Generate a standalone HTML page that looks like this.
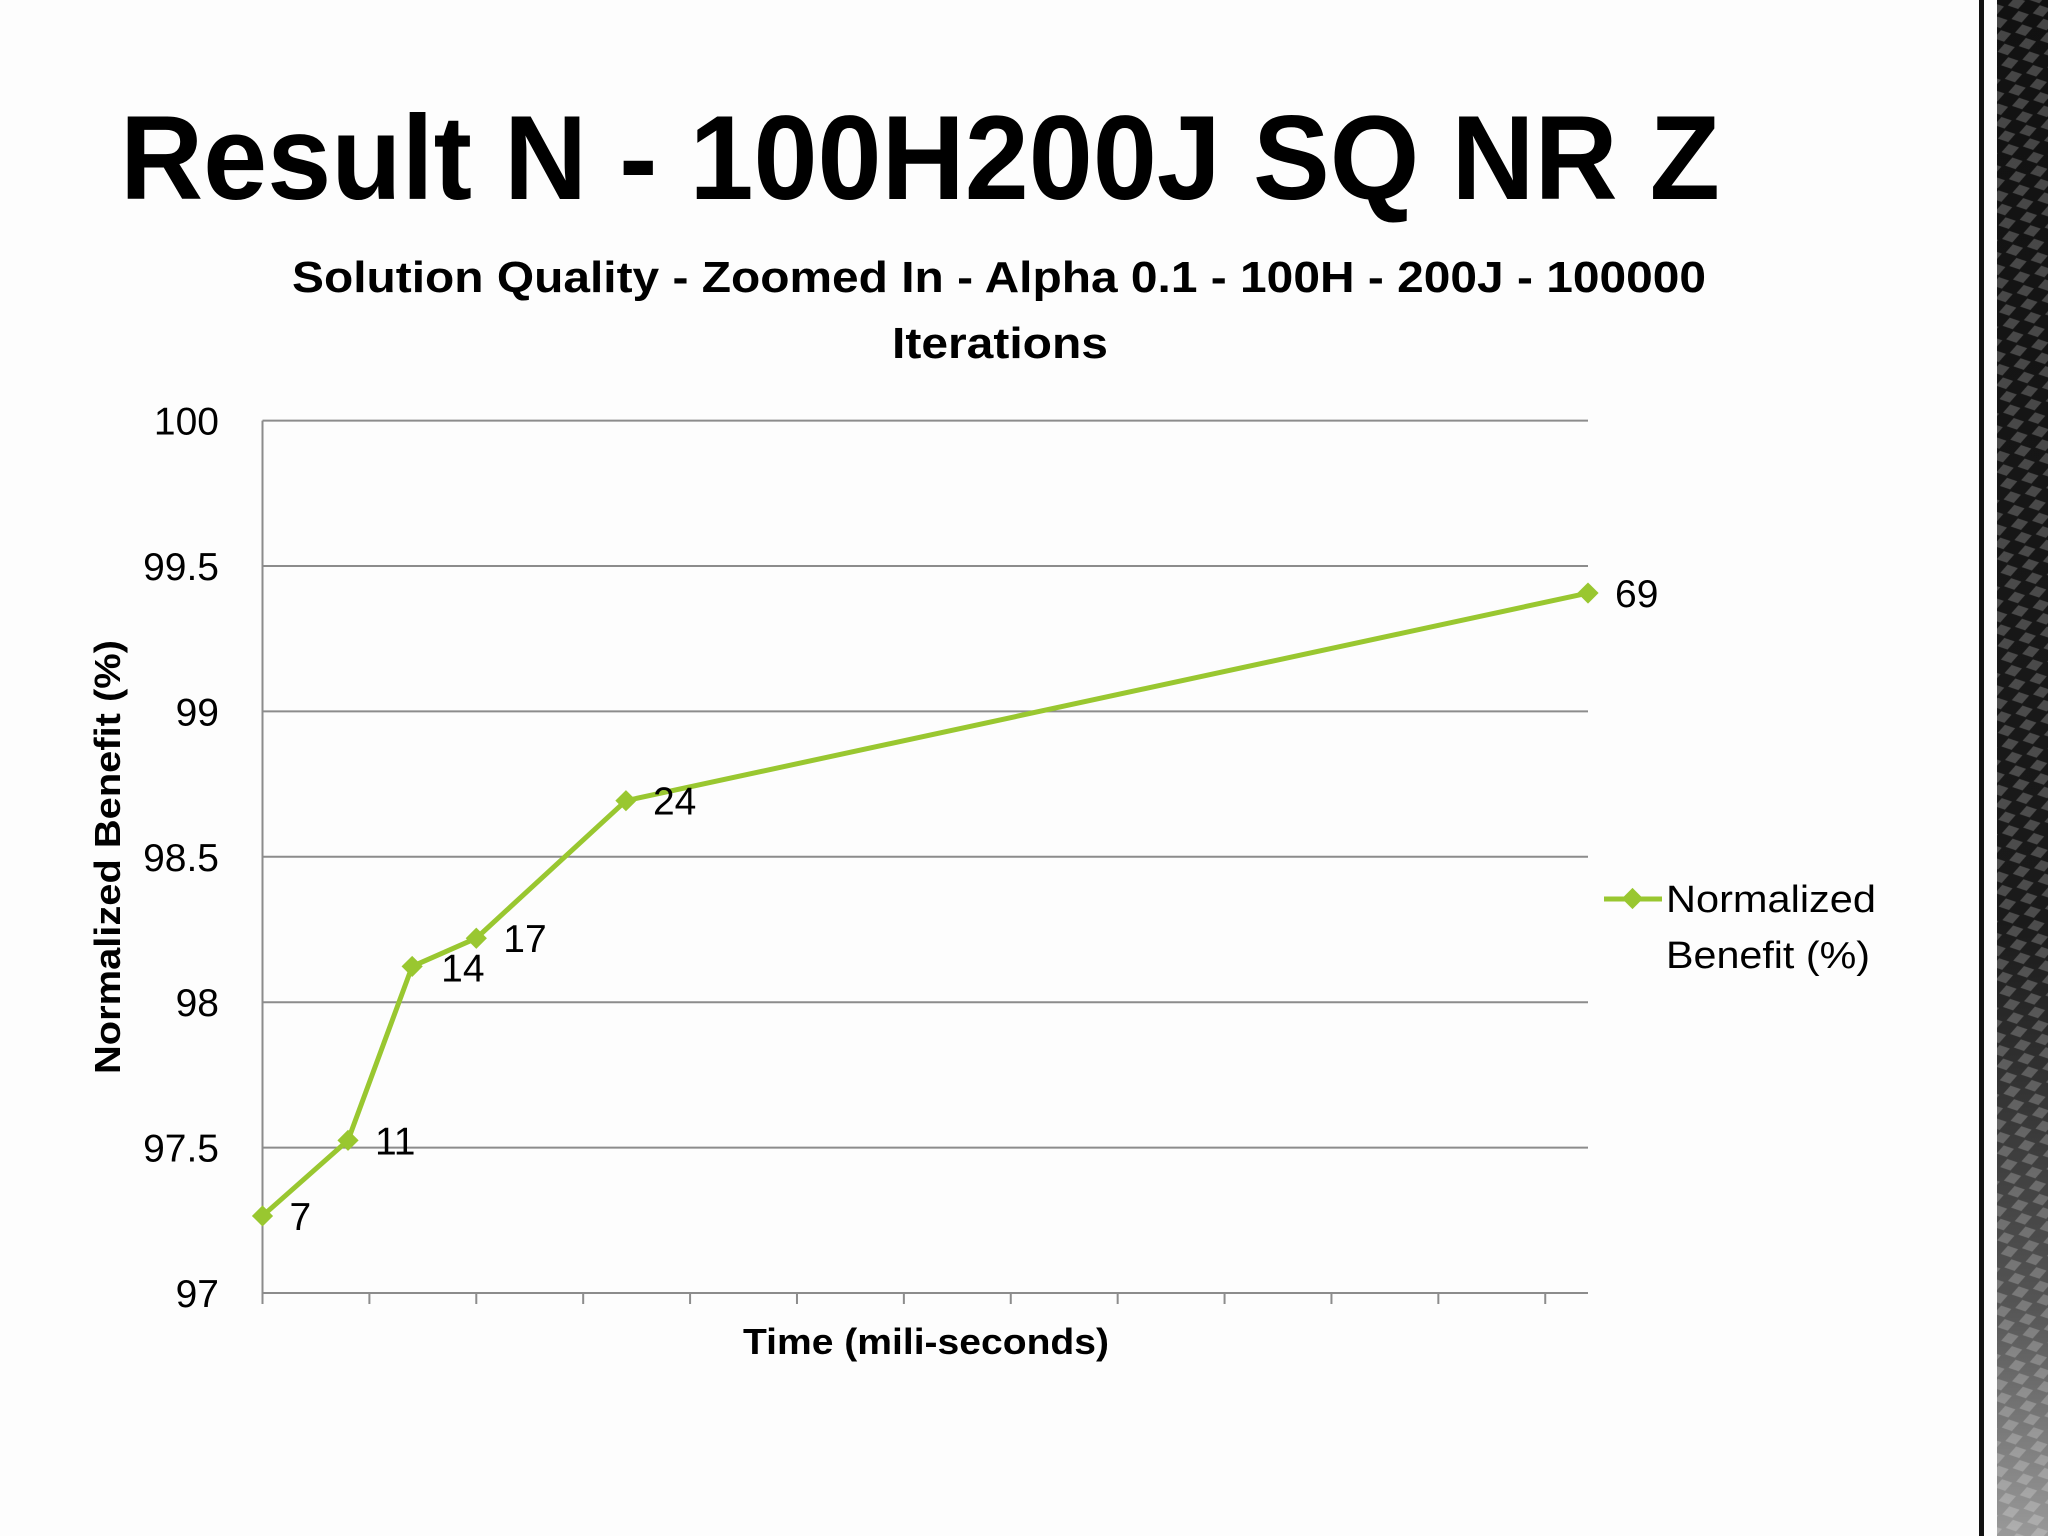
<!DOCTYPE html>
<html><head><meta charset="utf-8"><style>
html,body{margin:0;padding:0;background:#fff;}
#wrap{position:relative;width:2048px;height:1536px;overflow:hidden;background:#fdfdfd;}
svg text{font-family:"Liberation Sans",sans-serif;}
</style></head><body>
<div id="wrap">
<svg id="chart" width="2048" height="1536" viewBox="0 0 2048 1536">
<defs>
<pattern id="diam" width="22" height="14" patternUnits="userSpaceOnUse" patternTransform="rotate(-15)">
<rect width="22" height="14" fill="none"/>
<polygon points="11,1 20,7 11,13 2,7" fill="#fff" fill-opacity="0.22"/>
</pattern>
<linearGradient id="strip" x1="0" y1="0" x2="0" y2="1">
<stop offset="0" stop-color="#111"/><stop offset="0.6" stop-color="#1a1a1a"/><stop offset="0.85" stop-color="#555"/><stop offset="1" stop-color="#999"/>
</linearGradient>
</defs>
<g>
<rect x="1979" y="0" width="5" height="1536" fill="#111"/>
<rect x="1997" y="0" width="51" height="1536" fill="url(#strip)"/>
<rect x="1997" y="0" width="51" height="1536" fill="url(#diam)"/>
</g>
<text x="120" y="199" font-size="120" font-weight="bold" fill="#000" textLength="1600" lengthAdjust="spacingAndGlyphs">Result N - 100H200J SQ NR Z</text>
<text x="292" y="292" font-size="44" font-weight="bold" fill="#000" textLength="1414" lengthAdjust="spacingAndGlyphs">Solution Quality - Zoomed In - Alpha 0.1 - 100H - 200J - 100000</text>
<text x="1000" y="358" font-size="44" font-weight="bold" fill="#000" text-anchor="middle" textLength="216" lengthAdjust="spacingAndGlyphs">Iterations</text>
<g id="grid"></g>
<g id="series"></g>
<text transform="translate(120,857) rotate(-90)" font-size="36" font-weight="bold" fill="#000" text-anchor="middle" textLength="434" lengthAdjust="spacingAndGlyphs">Normalized Benefit (%)</text>
<text x="926" y="1354" font-size="36" font-weight="bold" fill="#000" text-anchor="middle" textLength="366" lengthAdjust="spacingAndGlyphs">Time (mili-seconds)</text>
<g>
<line x1="1604" y1="899" x2="1662" y2="899" stroke="#99c730" stroke-width="5"/>
<rect x="1625" y="891" width="15" height="15" fill="#99c730" transform="rotate(45 1632.5 898.5)"/>
<text x="1666" y="912" font-size="38" fill="#000" textLength="210" lengthAdjust="spacingAndGlyphs">Normalized</text>
<text x="1666" y="968" font-size="38" fill="#000" textLength="204" lengthAdjust="spacingAndGlyphs">Benefit (%)</text>
</g>
</svg>
</div>
<script>
const times = [7, 11, 14, 17, 24, 69];
const benefits = [97.265, 97.525, 98.123, 98.22, 98.693, 99.407];
const pointLabels = ["7", "11", "14", "17", "24", "69"];
const yTicks = [97, 97.5, 98, 98.5, 99, 99.5, 100];
const yTickLabels = ["97", "97.5", "98", "98.5", "99", "99.5", "100"];
const xMin = 7, xMax = 69, xTickStep = 5;

const NS = "http://www.w3.org/2000/svg";
const L = 262.5, R = 1588, T = 420.6, B = 1293;
function xs(v){ return L + (v - xMin) / (xMax - xMin) * (R - L); }
function ys(v){ return B - (v - 97) / (100 - 97) * (B - T); }
function mk(tag, attrs, parent){ const e = document.createElementNS(NS, tag); for (const k in attrs) e.setAttribute(k, attrs[k]); parent.appendChild(e); return e; }

const grid = document.getElementById("grid");
yTicks.forEach((t, i) => {
  const ln = mk("line", {x1: L, x2: R, y1: ys(t), y2: ys(t), stroke: "#8c8c8c", "stroke-width": 2}, grid);
  
  
  const tx = mk("text", {x: 219, y: ys(t) + 14, "font-size": 39, "text-anchor": "end", fill: "#000"}, grid);
  tx.textContent = yTickLabels[i];
  
  
});
const ax = mk("line", {x1: L, x2: L, y1: T, y2: B, stroke: "#8c8c8c", "stroke-width": 2}, grid);


for (let v = xMin; v <= xMax; v += xTickStep) {
  const tk = mk("line", {x1: xs(v), x2: xs(v), y1: B, y2: B + 11, stroke: "#8c8c8c", "stroke-width": 2}, grid);
  
  
}

const s = document.getElementById("series");
const pts = times.map((t, i) => xs(t) + "," + ys(benefits[i])).join(" ");
const pl = mk("polyline", {points: pts, fill: "none", stroke: "#99c730", "stroke-width": 5, "stroke-linejoin": "round"}, s);


times.forEach((t, i) => {
  const x = xs(t), y = ys(benefits[i]);
  const m = mk("rect", {x: x - 7.5, y: y - 7.5, width: 15, height: 15, fill: "#99c730", transform: `rotate(45 ${x} ${y})`}, s);
  
  
  const below = i === 2;
  const lb = mk("text", {x: x + (below ? 29 : 27), y: y + (below ? 1 : 0) + 14, "font-size": 39, fill: "#000"}, s);
  lb.textContent = pointLabels[i];
  
  
});
</script>
</body></html>
